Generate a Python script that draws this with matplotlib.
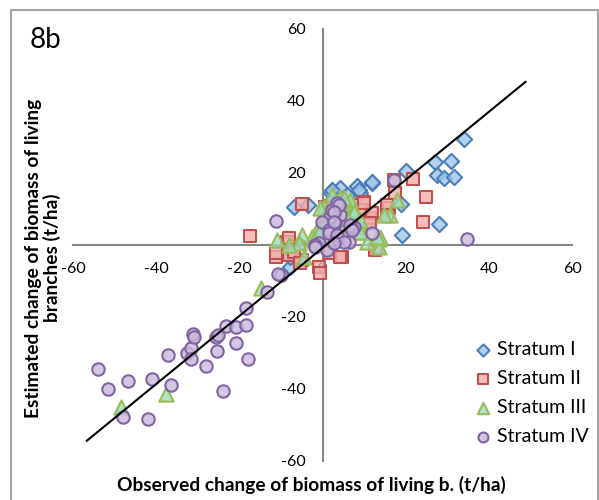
"""
Scatter 8b - estimated vs observed change of branch biomass
"""

import matplotlib
matplotlib.use('Agg')
import matplotlib.pyplot as plt
from matplotlib.patches import Rectangle

plt.rcParams['font.family'] = ['Lato', 'DejaVu Sans']
plt.rcParams['axes.unicode_minus'] = False

# Stratum I (diamonds)
s1_x = [34.0, 27.0, 31.0, 27.6, 29.2, 31.6, 20.0, 28.0, 19.0, 18.8, 11.8, 8.3, 9.1,
        4.2, 2.1, -3.5, -6.9, 1.9, 5.8, -7.7, -7.7, 2.5, 6.5, -1.0, 2.3, 8.7, 11.9]
s1_y = [29.4, 23.1, 23.4, 19.4, 18.7, 19.0, 20.6, 5.7, 2.7, 11.4, 17.3, 16.5, 14.4,
        15.9, 14.5, 11.1, 10.6, 12.0, 13.9, -6.0, -3.2, 8.5, 4.5, 3.0, 15.3, 15.3, 17.6]

# Stratum II (squares)
s2_x = [21.7, 24.8, 24.2, 17.3, 9.9, 17.5, 16.0, 11.5, -5.0, -17.5, 13.0, 12.7, 9.5,
        11.9, 4.7, 1.9, -11.3, -8.5, -8.1, -4.9, -6.9, -0.9, -0.5, 1.1, -5.3, 4.3,
        7.0, 2.5, 0.5, 5.0, 9.9, 11.5, -11.3, -8.1, 15.6, 15.6, 0.7]
s2_y = [18.2, 13.2, 6.4, 18.1, 12.0, 14.4, 10.2, 7.4, 11.4, 2.6, -0.5, -1.4, 9.7,
        8.8, -3.2, -2.3, -3.2, 0.9, -2.8, -4.2, -1.9, -6.0, -7.9, 10.6, -5.1, -3.2,
        11.0, 9.0, 8.0, 6.5, 11.6, 6.0, -2.3, 1.9, 11.1, 8.3, 10.6]

# Stratum III (triangles)
s3_x = [-48.4, -37.6, -14.7, 18.0, 16.3, 14.7, 13.5, 13.5, 4.3, 6.7, 7.5, 5.5, 8.3,
        9.5, 3.5, 0.3, 0.7, -1.3, -2.5, -4.9, -5.7, -8.1, -10.9, -0.5, 13.9, -4.5,
        0.7, 4.3, 9.1, 6.7, 2.3, 5.1, 7.5, 9.1, 9.1, 5.9, -0.5, -2.1, 10.7, 13.1,
        1.1]
s3_y = [-44.9, -41.4, -12.0, 12.5, 8.3, 8.3, 1.6, -0.5, 13.4, 11.6, 9.7, 8.8, 6.0,
        3.7, 5.1, 10.6, 8.8, 4.2, 2.3, 2.8, 0.5, 0.0, 1.4, 10.2, 2.3, -3.2,
        6.0, 5.1, 5.1, 12.5, 13.9, 13.0, 9.3, 6.9, 3.7, 7.4, 4.2, 1.4, 0.9, 2.3,
        8.8]

# Stratum IV (circles)
s4_x = [-54.0, -51.6, -46.8, -48.0, -41.9, -41.1, -37.2, -36.4, -32.5, -31.6, -31.6,
        -31.1, -30.8, -27.9, -25.7, -25.2, -25.3, -23.9, -23.2, -20.7, -20.7, -18.5,
        -17.9, -18.4, -13.3, -10.1, -10.6, -11.3, 34.8, 17.3, 3.5, 4.3, 3.1, 2.7,
        5.1, 6.3, 7.1, 11.9, 1.9, 1.9, -0.1, -0.9, -1.8, 1.5, 2.3, 3.5, 7.5, -1.7,
        1.1, 3.9, 2.7, 2.7, 1.5, 3.5, 6.7, 7.1, 5.1, 2.7]
s4_y = [-34.5, -39.9, -37.7, -47.7, -48.3, -37.3, -30.6, -39.0, -29.9, -28.5, -31.8,
        -24.7, -25.5, -33.5, -25.6, -25.0, -29.4, -40.6, -22.5, -27.3, -22.7, -22.2,
        -31.8, -17.4, -13.0, -8.3, -8.0, 6.7, 1.8, 18.1, 11.6, 8.3, 6.0, 3.7,
        2.3, 0.9, 5.1, 3.2, 7.9, 1.4, 6.5, 0.5, 0.0, 4.2, 9.7, 1.9, 5.1, -0.5,
        -1.4, 11.1, 9.3, 6.5, 3.2, 2.8, 5.6, 4.2, 0.9, 0.5]

# fitted line end points
line_x = [-56.7, 48.8]
line_y = [-54.4, 45.3]

series = [
    ('Stratum I', s1_x, s1_y, 'D', (0.62, 0.78, 0.92, 0.8), '#4A7EBB', 60),
    ('Stratum II', s2_x, s2_y, 's', (0.94, 0.68, 0.68, 0.8), '#C0504D', 72),
    ('Stratum III', s3_x, s3_y, '^', (0.62, 0.86, 0.74, 0.8), '#9BBB59', 105),
    ('Stratum IV', s4_x, s4_y, 'o', (0.78, 0.72, 0.86, 0.8), '#8064A2', 80),
]

fig = plt.figure(figsize=(5.99, 5.0), dpi=100)
ax = fig.add_axes([73 / 599, 39 / 500, 499 / 599, 432 / 500])

for name, xs, ys, mk, fc, ec, sz in series:
    ax.scatter(xs, ys, marker=mk, s=sz, facecolors=[fc], edgecolors=ec,
               linewidths=1.5, label=name, zorder=3)

ax.plot(line_x, line_y, color='black', linewidth=1.5, zorder=4)

ax.set_xlim(-60, 60)
ax.set_ylim(-60, 60)
ax.set_xticks(range(-60, 61, 20))
ax.set_yticks(range(-60, 61, 20))

# axes crossing at the origin, Excel style
ax.spines['left'].set_position(('data', 0))
ax.spines['bottom'].set_position(('data', 0))
ax.spines['top'].set_visible(False)
ax.spines['right'].set_visible(False)
for sp in ['left', 'bottom']:
    ax.spines[sp].set_color('#868686')
    ax.spines[sp].set_linewidth(1.5)
ax.tick_params(axis='x', length=0, pad=12, labelsize=11.5)
ax.tick_params(axis='y', length=0, pad=12, labelsize=11.5)

# labels
fig.text(43 / 599, 1 - 258 / 500,
         'Estimated change of biomass of living\nbranches (t/ha)',
         rotation=90, ha='center', va='center', fontsize=13.8,
         fontweight='bold', linespacing=1.05)
fig.text(311 / 599, 1 - 485 / 500,
         'Observed change of biomass of living b. (t/ha)',
         ha='center', va='center', fontsize=13.8, fontweight='bold')
fig.text(30 / 599, 1 - 40 / 500, '8b', ha='left', va='center', fontsize=20)

leg = ax.legend(loc='upper left', bbox_to_anchor=(476 / 599, 1 - 341 / 500),
                bbox_transform=fig.transFigure, frameon=False, fontsize=14,
                handlelength=0.7, handletextpad=0.4, labelspacing=0.62,
                borderpad=0, borderaxespad=0, markerscale=0.8)

# chart border
fig.patches.append(Rectangle((11 / 599, -0.01), 587 / 599, 0.99,
                             transform=fig.transFigure, fill=False,
                             edgecolor='#A6A6A6', linewidth=1.5))

plt.savefig('out.png', dpi=100, facecolor='white')
plt.close()
